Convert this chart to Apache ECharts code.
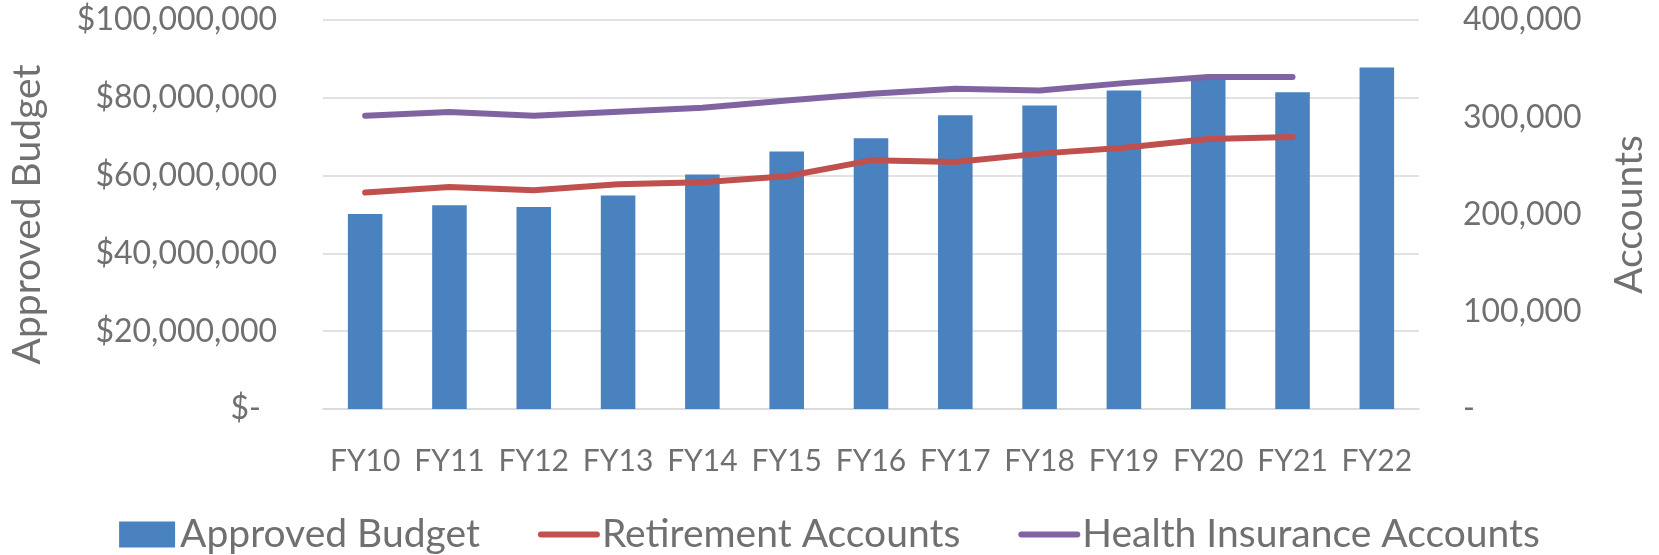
<!DOCTYPE html>
<html>
<head>
<meta charset="utf-8">
<script src="https://cdn.jsdelivr.net/npm/echarts@6/dist/echarts.min.js"></script>
<style>
  html, body { margin: 0; padding: 0; background: #fff; }
  #chart { width: 1659px; height: 555px; }
</style>
</head>
<body>
<div id="chart"></div>
<script>
var categories = ['FY10', 'FY11', 'FY12', 'FY13', 'FY14', 'FY15', 'FY16', 'FY17', 'FY18', 'FY19', 'FY20', 'FY21', 'FY22'];
var budget = [50100000, 52400000, 51900000, 54900000, 60300000, 66200000, 69600000, 75500000, 78000000, 81900000, 85600000, 81400000, 87800000];
var retirement = [222600, 228300, 224900, 231100, 233100, 239300, 255700, 254000, 262600, 268700, 277600, 279700, null];
var health = [301600, 305400, 301600, 305700, 309800, 317300, 324200, 329300, 327600, 335100, 341300, 341300, null];

(function() {
  var ink = '#707070';
  var rule = '#d9d9d9';
  var font = 'Lato';

  var chart = echarts.init(document.getElementById('chart'), null, { renderer: 'canvas' });
  chart.setOption({
    animation: false,
    textStyle: { fontFamily: font },
    grid: { left: 323, right: 240, top: 20, bottom: 146, containLabel: false },
    legend: {
      bottom: 1, left: 'center', padding: [0, 5, 0, 5],
      itemWidth: 56, itemHeight: 26, itemGap: 58,
      textStyle: { color: ink, fontSize: 39, fontFamily: font },
      data: [
        { name: 'Approved Budget', icon: 'rect' },
        { name: 'Retirement Accounts', itemStyle: { opacity: 0 }, lineStyle: { width: 6, cap: 'round' } },
        { name: 'Health Insurance Accounts', itemStyle: { opacity: 0 }, lineStyle: { width: 6, cap: 'round' } }
      ]
    },
    xAxis: {
      type: 'category',
      data: categories,
      axisLine: { lineStyle: { color: rule, width: 1.5 } },
      axisTick: { show: false },
      axisLabel: { color: ink, fontSize: 30, margin: 37, interval: 0, fontFamily: font }
    },
    yAxis: [{
      type: 'value', min: 0, max: 100000000, interval: 20000000,
      name: 'Approved Budget', nameLocation: 'middle', nameRotate: 90, nameGap: 276,
      nameTextStyle: { color: ink, fontSize: 39, fontFamily: font },
      axisLine: { show: false }, axisTick: { show: false },
      splitLine: { lineStyle: { color: rule, width: 1.5 } },
      axisLabel: {
        color: ink, fontSize: 32, margin: 46, fontFamily: font,
        formatter: function(v) {
          if (v === 0) return '{z|$-}';
          return '$' + v.toLocaleString('en-US');
        },
        rich: { z: { color: ink, fontSize: 32, fontFamily: font, padding: [0, 16, 0, 0] } }
      }
    }, {
      type: 'value', min: 0, max: 400000, interval: 100000,
      name: 'Accounts', nameLocation: 'middle', nameRotate: 90, nameGap: 191,
      nameTextStyle: { color: ink, fontSize: 39, fontFamily: font },
      axisLine: { show: false }, axisTick: { show: false },
      splitLine: { show: false },
      axisLabel: {
        color: ink, fontSize: 32, margin: 44, fontFamily: font,
        formatter: function(v) { return v === 0 ? '-' : v.toLocaleString('en-US'); }
      }
    }],
    series: [{
      name: 'Approved Budget', type: 'bar', barWidth: '41%',
      data: budget,
      itemStyle: { color: '#4a81bf' }
    }, {
      name: 'Retirement Accounts', type: 'line', yAxisIndex: 1,
      data: retirement, symbol: 'none',
      lineStyle: { color: '#c0504d', width: 6, cap: 'round', join: 'round' },
      itemStyle: { color: '#c0504d' }
    }, {
      name: 'Health Insurance Accounts', type: 'line', yAxisIndex: 1,
      data: health, symbol: 'none',
      lineStyle: { color: '#8064a2', width: 6, cap: 'round', join: 'round' },
      itemStyle: { color: '#8064a2' }
    }]
  });
  window.addEventListener('resize', function() { chart.resize(); });
})();
</script>
</body>
</html>
